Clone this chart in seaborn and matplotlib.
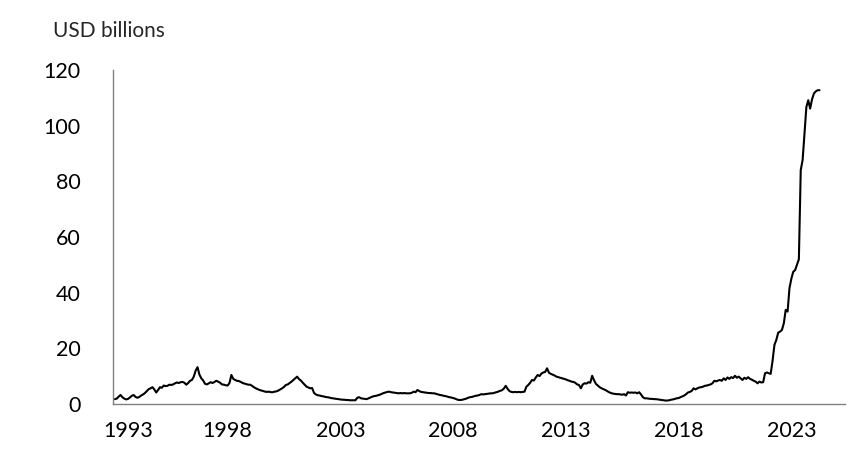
"""Line chart of a monthly series in USD billions, 1993-2024."""

import numpy as np
import pandas as pd
import matplotlib.pyplot as plt
import matplotlib.transforms as mtransforms
import seaborn as sns

START_YEAR = 1993

# monthly values, Jan..Dec
v1993 = [1.7, 1.9, 2.6, 3.2, 2.4, 1.9, 1.6, 1.8, 2.3, 2.9, 3.2, 2.5]
v1994 = [2.2, 2.5, 3.0, 3.4, 3.9, 4.6, 5.3, 5.6, 6.0, 5.2, 4.1, 5.0]
v1995 = [6.0, 5.8, 6.6, 6.4, 6.5, 6.9, 6.8, 7.0, 7.4, 7.7, 7.5, 7.8]
v1996 = [7.9, 7.6, 6.9, 7.5, 8.3, 8.6, 9.8, 12.0, 13.2, 10.5, 9.2, 8.4]
v1997 = [7.2, 7.0, 7.4, 7.8, 7.5, 7.9, 8.3, 8.0, 7.6, 7.0, 6.9, 6.7]
v1998 = [6.6, 7.5, 10.4, 9.0, 8.6, 8.3, 8.2, 7.9, 7.5, 7.3, 7.1, 6.9]
v1999 = [6.9, 6.5, 6.0, 5.6, 5.3, 5.0, 4.8, 4.6, 4.4, 4.3, 4.4, 4.2]
v2000 = [4.2, 4.4, 4.5, 4.8, 5.2, 5.6, 6.1, 6.8, 7.0, 7.5, 8.0, 8.6]
v2001 = [9.2, 9.8, 8.9, 8.4, 7.6, 6.9, 6.2, 5.9, 5.6, 5.7, 3.9, 3.4]
v2002 = [3.1, 3.0, 2.8, 2.7, 2.5, 2.4, 2.3, 2.1, 2.0, 1.9, 1.8, 1.7]
v2003 = [1.6, 1.5, 1.5, 1.4, 1.4, 1.3, 1.3, 1.3, 1.3, 2.2, 2.4, 2.0]
v2004 = [1.9, 1.8, 1.7, 2.0, 2.3, 2.6, 2.8, 2.9, 3.1, 3.3, 3.6, 3.9]
v2005 = [4.1, 4.3, 4.4, 4.2, 4.1, 4.0, 3.9, 3.8, 3.9, 3.8, 3.9, 3.8]
v2006 = [3.8, 3.8, 4.0, 4.4, 4.2, 5.0, 4.6, 4.3, 4.2, 4.1, 4.0, 3.9]
v2007 = [3.9, 3.8, 3.8, 3.6, 3.4, 3.2, 3.1, 2.9, 2.8, 2.6, 2.4, 2.3]
v2008 = [2.1, 1.9, 1.6, 1.4, 1.4, 1.5, 1.7, 1.9, 2.2, 2.4, 2.5, 2.7]
v2009 = [2.9, 3.0, 3.2, 3.5, 3.4, 3.5, 3.6, 3.7, 3.8, 3.8, 4.0, 4.2]
v2010 = [4.4, 4.7, 4.9, 5.5, 6.5, 5.4, 4.6, 4.3, 4.2, 4.3, 4.2, 4.3]
v2011 = [4.2, 4.3, 4.4, 6.2, 6.8, 7.6, 8.6, 8.4, 9.5, 10.4, 10.0, 10.9]
v2012 = [11.3, 11.5, 12.8, 11.2, 10.8, 10.5, 10.2, 9.8, 9.6, 9.4, 9.2, 9.0]
v2013 = [8.8, 8.5, 8.3, 8.0, 7.9, 7.6, 7.0, 6.8, 5.6, 7.0, 7.4, 7.3]
v2014 = [7.8, 7.6, 10.1, 8.5, 7.2, 6.6, 6.0, 5.6, 5.3, 5.0, 4.6, 4.2]
v2015 = [3.9, 3.7, 3.6, 3.5, 3.5, 3.4, 3.3, 3.5, 3.0, 4.2, 4.0, 4.1]
v2016 = [4.0, 4.1, 3.8, 4.2, 3.4, 2.4, 2.0, 2.0, 1.9, 1.8, 1.8, 1.7]
v2017 = [1.7, 1.6, 1.5, 1.4, 1.3, 1.2, 1.2, 1.3, 1.5, 1.6, 1.8, 2.0]
v2018 = [2.1, 2.4, 2.7, 3.0, 3.5, 4.1, 4.3, 4.7, 5.6, 5.2, 5.6, 5.9]
v2019 = [6.0, 6.2, 6.5, 6.6, 6.8, 7.0, 7.4, 8.3, 8.1, 8.4, 8.6, 8.3]
v2020 = [9.2, 8.6, 9.5, 9.0, 9.6, 9.3, 10.1, 9.4, 9.8, 9.2, 8.6, 9.4]
v2021 = [9.0, 9.6, 9.0, 8.7, 8.3, 8.0, 7.4, 8.0, 7.7, 7.8, 11.0, 11.3]
v2022 = [11.0, 10.8, 15.5, 21.2, 23.0, 25.6, 26.0, 26.6, 29.0, 33.8, 33.2, 41.6]
v2023 = [45.0, 47.5, 48.1, 50.0, 52.0, 84.1, 87.7, 97.0, 106.8, 109.2, 106.2, 109.5]
v2024 = [111.6, 112.4, 112.8, 112.8]

yearly = [v1993, v1994, v1995, v1996, v1997, v1998, v1999, v2000, v2001,
          v2002, v2003, v2004, v2005, v2006, v2007, v2008, v2009, v2010,
          v2011, v2012, v2013, v2014, v2015, v2016, v2017, v2018, v2019,
          v2020, v2021, v2022, v2023, v2024]

tick_years = [1993, 1998, 2003, 2008, 2013, 2018, 2023]
y_ticks = [0, 20, 40, 60, 80, 100, 120]


def build_frame():
   values = [v for year in yearly for v in year]
   t = START_YEAR + np.arange(len(values)) / 12.0
   return pd.DataFrame({'t': t, 'usd': values})


def plot(df):
   sns.set_style('white')
   plt.rcParams['font.family'] = ['Lato', 'DejaVu Sans']
   fig = plt.figure(figsize=(8.68, 4.68), dpi=100)
   ax = fig.add_axes([0.130, 0.137, 0.843, 0.713])

   sns.lineplot(x='t', y='usd', data=df, ax=ax, color='black', linewidth=1.5)

   ax.set_xlim(1992.91, 2025.36)
   ax.set_ylim(0, 120)
   ax.set_xticks(tick_years)
   ax.set_xticklabels([str(y) for y in tick_years])
   ax.set_yticks(y_ticks)
   ax.set_xlabel('')
   ax.set_ylabel('')
   ax.tick_params(axis='both', length=0, labelsize=15.5, colors='black')
   ax.tick_params(axis='x', pad=12)
   ax.tick_params(axis='y', pad=23)

   sns.despine(ax=ax)
   for side in ['left', 'bottom']:
      ax.spines[side].set_color('#808080')
      ax.spines[side].set_linewidth(1.0)

   # first year label sits a little right of its tick in the original
   first = ax.get_xticklabels()[0]
   first.set_transform(first.get_transform() +
                       mtransforms.ScaledTranslation(13 / 100, 0, fig.dpi_scale_trans))

   fig.text(53 / 868, 1 - 31 / 468, 'USD billions', fontsize=15, va='center', ha='left')

   fig.savefig('out.png', dpi=100)


def main():
   df = build_frame()
   plot(df)


if __name__ == '__main__':
   main()
